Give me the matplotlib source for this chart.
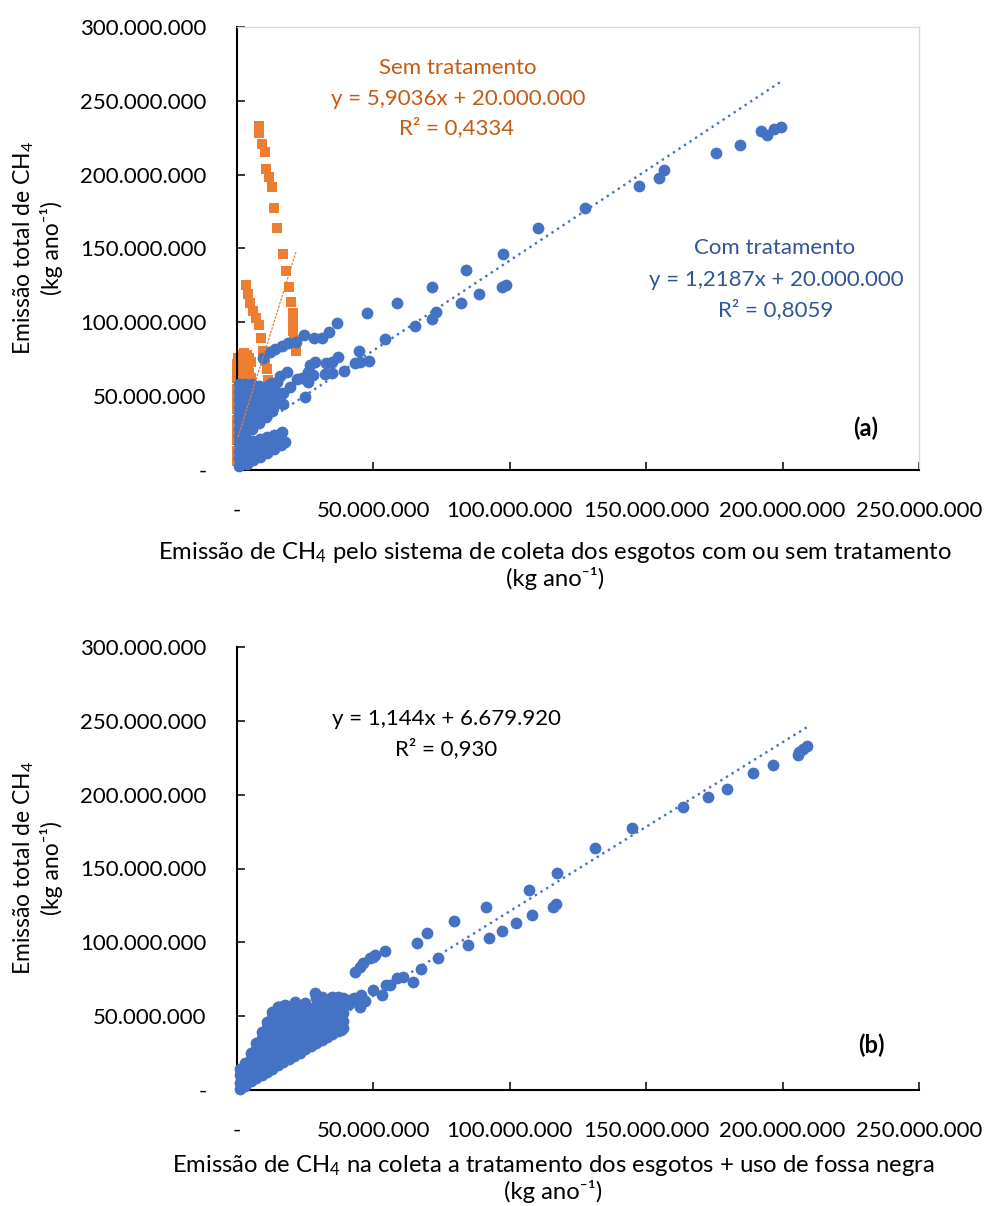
import numpy as np
import matplotlib
matplotlib.use("Agg")
import matplotlib.pyplot as plt
from matplotlib.ticker import FuncFormatter

plt.rcParams['font.family'] = ['Lato', 'DejaVu Sans']
plt.rcParams['mathtext.fontset'] = 'custom'
plt.rcParams['mathtext.rm'] = 'Lato'
plt.rcParams['mathtext.it'] = 'Lato:italic'
plt.rcParams['mathtext.bf'] = 'Lato:bold'

M = 1e6
BLUE = '#4472C4'
ORANGE = '#ED7D31'

# ---------------- Panel (a): values in millions of kg/year ----------------
# Com tratamento (blue circles): isolated points / bands
a_com_x = [199.5, 197.0, 194.4, 192.2, 184.5, 175.7, 156.7, 154.8, 147.5, 127.4, 110.2, 98.5, 97.0, 97.4,
           88.6, 83.8, 82.0, 73.1, 71.3, 71.4, 65.2, 58.7, 54.2, 47.7, 44.7, 48.3, 45.0, 43.2, 39.1, 37.1,
           36.8, 34.9, 32.8, 34.7, 32.2, 33.7, 31.2, 28.3, 28.6, 26.7, 26.1, 27.9, 26.1, 24.9, 24.5, 23.7,
           21.9, 21.5, 19.4, 18.8, 18.2, 16.4, 15.7, 14.5, 13.9, 12.7, 12.1, 15.1, 13.9, 13.3, 9.5, 17.0, 17.0]
a_com_y = [232.3, 230.9, 226.9, 229.6, 220.1, 214.7, 203.2, 197.7, 192.3, 177.4, 163.9, 125.3, 124.0, 146.3,
           119.2, 135.4, 112.9, 107.2, 102.3, 123.9, 97.5, 113.3, 88.5, 106.1, 80.8, 74.0, 73.3, 72.7, 67.3, 76.3,
           99.3, 73.3, 72.7, 65.5, 65.0, 93.7, 89.6, 89.2, 73.3, 71.1, 66.6, 64.3, 59.8, 49.6, 91.4, 62.1,
           61.4, 86.9, 56.0, 85.8, 66.6, 84.0, 63.7, 59.8, 81.7, 58.7, 80.1, 51.9, 47.4, 41.8, 76.0, 45.0, 52.0]
# Com tratamento: dense cluster near the origin
a_clu_x = [0.8, 0.8, 0.8, 0.8, 0.8, 0.8, 0.8, 0.8, 0.8, 0.8, 0.8, 0.8,
           3.0, 3.0, 3.0, 3.0, 3.0, 3.0, 3.0, 3.0,
           5.5, 5.5, 5.5, 5.5, 5.5, 5.5, 5.5,
           8.0, 8.0, 8.0, 8.0, 8.0, 8.0,
           10.5, 10.5, 10.5, 10.5, 10.5,
           13.0, 13.0, 13.0, 13.0,
           3.5, 3.5, 3.5, 3.5,
           6.0, 6.0, 6.0, 6.0,
           8.5, 8.5, 8.5, 8.5,
           11.0, 11.0, 11.0, 11.0,
           13.5, 13.5, 13.5,
           16.0, 16.0, 16.0, 17.6, 16.4,
           2.0, 2.0, 2.0, 4.5, 4.5, 4.5, 7.0, 7.0, 9.5, 9.5, 12.0, 12.0]
a_clu_y = [3.0, 8.0, 13.0, 18.0, 23.0, 28.0, 33.0, 38.0, 43.0, 48.0, 53.0, 58.0,
           23.0, 28.0, 33.0, 38.0, 43.0, 48.0, 53.0, 58.0,
           28.0, 33.0, 38.0, 43.0, 48.0, 53.0, 58.0,
           32.0, 37.0, 42.0, 47.0, 52.0, 57.0,
           36.0, 41.0, 46.0, 51.0, 56.0,
           40.0, 45.0, 50.0, 55.0,
           4.0, 9.0, 14.0, 18.0,
           6.5, 11.0, 15.5, 19.5,
           9.0, 13.5, 18.0, 21.0,
           11.5, 16.0, 20.5, 22.5,
           14.5, 19.0, 23.5,
           17.0, 21.5, 25.0, 19.2, 25.9,
           30.0, 40.0, 50.0, 35.0, 45.0, 55.0, 40.0, 50.0, 45.0, 55.0, 48.0, 58.0]

# Sem tratamento (orange squares)
a_sem_x = [8.2, 7.9, 9.2, 10.2, 10.6, 11.6, 12.8, 13.6, 14.8, 16.7, 17.8, 19.0, 19.9, 20.7, 20.7, 20.7, 21.0, 21.6,
           3.3, 3.9, 4.9, 5.7, 7.0, 7.9, 8.8, 9.4, 10.2, 10.9, 11.5, 12.7, 13.9,
           0.1, 0.1, 0.1, 0.5, 1.5, 2.5, 3.5, 4.5, 1.8, 3.0, 4.2, 5.0, 1.5, 3.0, 4.5, 1.5, 3.2, 5.2,
           0.1, 0.1, 0.1, 0.1, 0.1, 0.1, 0.1, 0.1]
a_sem_y = [232.9, 227.9, 220.5, 215.1, 203.6, 198.2, 191.9, 177.3, 163.8, 146.3, 134.8, 123.7, 113.8, 106.1, 99.8, 94.1, 88.0, 80.8,
           125.3, 119.0, 113.3, 107.9, 102.7, 98.2, 89.2, 80.8, 74.0, 68.2, 60.9, 54.2, 47.4,
           62.0, 67.0, 72.0, 76.0, 78.0, 79.0, 78.0, 76.0, 73.0, 74.0, 71.0, 73.0, 68.0, 69.0, 66.0, 63.0, 64.0, 62.0,
           55.0, 48.0, 41.0, 34.0, 27.0, 20.0, 13.0, 6.0]

# Trend lines (panel a)
com_slope, com_intercept = 1.2187, 20.0
sem_slope, sem_intercept = 5.9036, 20.0

# ---------------- Panel (b) ----------------
b_x = [209.1, 207.3, 205.8, 206.1, 196.3, 189.3, 179.6, 172.8, 163.6, 144.8, 131.1, 117.4, 106.9, 117.0, 115.8,
       108.2, 102.4, 97.3, 92.5, 84.8, 91.4, 79.5, 69.8, 65.8, 73.5, 67.3, 54.2, 49.9, 46.2, 64.5, 60.9, 58.5,
       54.8, 49.9, 53.0,
       50.5, 48.7, 45.0, 43.2, 37.1, 31.0, 30.4, 33.4, 32.2, 21.2, 17.6, 15.1, 24.9, 23.7, 56.0, 45.6, 44.4,
       45.0, 40.7, 38.3, 37.7, 36.5, 38.3, 28.6, 41.0, 43.0, 47.0]
b_y = [232.9, 230.7, 226.9, 229.1, 220.1, 214.9, 203.6, 198.2, 191.8, 177.2, 163.7, 146.9, 135.2, 126.0, 124.1,
       118.5, 113.3, 107.9, 102.7, 98.2, 123.7, 114.4, 106.1, 99.7, 89.6, 81.7, 94.3, 90.3, 85.8, 73.3, 76.7, 75.6,
       71.1, 67.7, 64.3,
       91.4, 89.2, 83.5, 80.1, 63.2, 63.2, 60.9, 58.7, 54.2, 59.8, 57.6, 56.4, 58.7, 54.2, 71.1, 64.3, 60.9,
       56.4, 60.9, 56.4, 51.9, 45.2, 40.6, 65.5, 58.0, 62.0, 60.0]
# Panel (b): dense cluster near the origin
b_clu_x = [1, 1, 1, 1,
           3, 3, 3, 3,
           5, 5, 5, 5, 5,
           7, 7, 7, 7, 7, 7,
           9, 9, 9, 9, 9, 9, 9,
           11, 11, 11, 11, 11, 11, 11, 11,
           13, 13, 13, 13, 13, 13, 13, 13, 13,
           15, 15, 15, 15, 15, 15, 15, 15, 15,
           17, 17, 17, 17, 17, 17, 17, 17, 17,
           19, 19, 19, 19, 19, 19, 19, 19,
           21, 21, 21, 21, 21, 21, 21, 21,
           23, 23, 23, 23, 23, 23, 23,
           25, 25, 25, 25, 25, 25, 25,
           27, 27, 27, 27, 27, 27,
           29, 29, 29, 29, 29, 29, 29,
           31, 31, 31, 31, 31, 31,
           33, 33, 33, 33, 33, 33,
           35, 35, 35, 35, 35, 35,
           37, 37, 37, 37, 37,
           39, 39, 39, 39, 39]
b_clu_y = [1, 5, 10, 14,
           3, 8, 13, 18,
           6, 11, 16, 21, 25,
           8, 13, 18, 23, 28, 32,
           10, 15, 20, 25, 30, 35, 39,
           12, 17, 22, 27, 32, 37, 42, 46,
           14, 19, 24, 29, 34, 39, 44, 49, 53,
           17, 22, 27, 32, 37, 42, 47, 52, 56,
           19, 24, 29, 34, 39, 44, 49, 54, 57,
           21, 26, 31, 36, 41, 46, 51, 56,
           23, 28, 33, 38, 43, 48, 53, 58,
           25, 30, 35, 40, 45, 50, 55,
           28, 33, 38, 43, 48, 53, 58,
           30, 35, 40, 45, 50, 55,
           32, 37, 42, 47, 52, 57, 62,
           34, 39, 44, 49, 54, 59,
           36, 41, 46, 51, 56, 61,
           38, 43, 48, 53, 58, 63,
           40, 45, 50, 55, 60,
           42, 47, 52, 57, 62]
b_slope, b_intercept = 1.144, 6.67992

x_ticks = [0, 50, 100, 150, 200, 250]
y_ticks = [0, 50, 100, 150, 200, 250, 300]


def fmt(v, pos):
    if abs(v) < 1:
        return '-'
    return f"{int(round(v)):,}".replace(',', '.')


W, H = 985, 1206
fig = plt.figure(figsize=(W / 100, H / 100), dpi=100)
axA = fig.add_axes([237 / W, 1 - 470 / H, 682 / W, 443 / H])
axB = fig.add_axes([237 / W, 1 - 1090 / H, 682 / W, 443 / H])

for ax in (axA, axB):
    ax.set_xlim(0, 250 * M)
    ax.set_ylim(0, 300 * M)
    ax.set_xticks([t * M for t in x_ticks])
    ax.set_yticks([t * M for t in y_ticks])
    ax.xaxis.set_major_formatter(FuncFormatter(fmt))
    ax.yaxis.set_major_formatter(FuncFormatter(fmt))
    ax.tick_params(axis='both', direction='in', length=6, width=1.1, labelsize=16, colors='black')
    ax.tick_params(axis='x', pad=22)
    ax.tick_params(axis='y', pad=22)
    ax.spines['left'].set_linewidth(1.5)
    ax.spines['bottom'].set_linewidth(1.5)

axA.spines['top'].set_color('#D9D9D9')
axA.spines['right'].set_color('#D9D9D9')
axA.spines['top'].set_linewidth(1.0)
axA.spines['right'].set_linewidth(1.0)
axB.spines['top'].set_visible(False)
axB.spines['right'].set_visible(False)

S_BLUE = 72
S_ORANGE = 44

# panel a scatter
axA.scatter(np.array(a_sem_x) * M, np.array(a_sem_y) * M, marker='s', s=S_ORANGE, color=ORANGE,
            linewidths=0, clip_on=False, zorder=2)
axA.scatter(np.array(a_clu_x) * M, np.array(a_clu_y) * M, marker='o', s=S_BLUE, color=BLUE,
            linewidths=0, clip_on=False, zorder=3)
axA.scatter(np.array(a_com_x) * M, np.array(a_com_y) * M, marker='o', s=S_BLUE, color=BLUE,
            linewidths=0, clip_on=False, zorder=3)
xs = np.array([0, max(a_sem_x)])
axA.plot(xs * M, (sem_slope * xs + sem_intercept) * M, color=ORANGE, lw=0.9,
         linestyle=(0, (2, 1)), zorder=4)
xc = np.array([0, max(a_com_x)])
axA.plot(xc * M, (com_slope * xc + com_intercept) * M, color=BLUE, lw=1.7,
         linestyle=(0, (1, 1.8)), zorder=4)

# panel b scatter
axB.scatter(np.array(b_clu_x) * M, np.array(b_clu_y) * M, marker='o', s=S_BLUE, color=BLUE,
            linewidths=0, clip_on=False, zorder=3)
axB.scatter(np.array(b_x) * M, np.array(b_y) * M, marker='o', s=S_BLUE, color=BLUE,
            linewidths=0, clip_on=False, zorder=3)
xb = np.array([0, max(b_x)])
axB.plot(xb * M, (b_slope * xb + b_intercept) * M, color=BLUE, lw=1.7,
         linestyle=(0, (1, 1.8)), zorder=4)


def ft(px, py, s, **kw):
    fig.text(px / W, 1 - py / H, s, ha='center', va='center', **kw)


# annotations panel a
ft(458, 68, 'Sem tratamento', fontsize=16, color='#C55A11')
ft(458, 99, 'y = 5,9036x + 20.000.000', fontsize=16, color='#C55A11')
ft(457, 128, 'R² = 0,4334', fontsize=16, color='#C55A11')
ft(775, 248, 'Com tratamento', fontsize=16, color='#2F5597')
ft(776, 280, 'y = 1,2187x + 20.000.000', fontsize=16, color='#2F5597')
ft(776, 310, 'R² = 0,8059', fontsize=16, color='#2F5597')
ft(866, 428, '(a)', fontsize=17, fontweight='bold', color='black')

# annotations panel b
ft(446, 719, 'y = 1,144x + 6.679.920', fontsize=16, color='black')
ft(446, 749, 'R² = 0,930', fontsize=16, color='black')
ft(871, 1045, '(b)', fontsize=17, fontweight='bold', color='black')

# axis labels
ylab = 'Emissão total de CH$_4$\n(kg ano⁻¹)'
ft(37, 248, ylab, fontsize=16.5, rotation=90, multialignment='center', linespacing=1.2)
ft(37, 868, ylab, fontsize=16.5, rotation=90, multialignment='center', linespacing=1.2)
ft(555, 565, 'Emissão de CH$_4$ pelo sistema de coleta dos esgotos com ou sem tratamento\n(kg ano⁻¹)',
   fontsize=17.2, multialignment='center', linespacing=1.15)
ft(553, 1178, 'Emissão de CH$_4$ na coleta a tratamento dos esgotos + uso de fossa negra\n(kg ano⁻¹)',
   fontsize=17.2, multialignment='center', linespacing=1.15)

fig.savefig('out.png', dpi=100)
